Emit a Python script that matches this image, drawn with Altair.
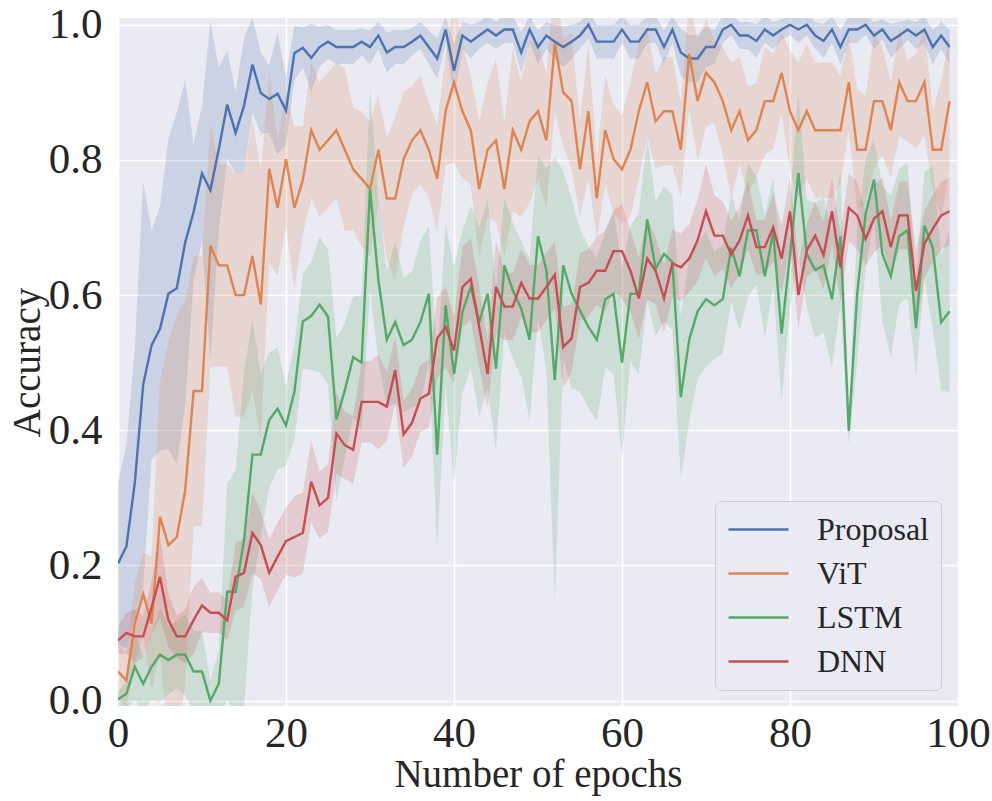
import altair as alt
import pandas as pd

# Training epochs (x axis)
epochs = list(range(100))

# Mean accuracy per epoch for each model
proposal = [
    0.203, 0.228, 0.322, 0.468, 0.526, 0.550, 0.602, 0.610, 0.678, 0.723,
    0.780, 0.755, 0.816, 0.882, 0.840, 0.880, 0.941, 0.899, 0.890, 0.898,
    0.873, 0.958, 0.966, 0.951, 0.967, 0.975, 0.967, 0.967, 0.967, 0.975,
    0.967, 0.984, 0.959, 0.967, 0.967, 0.975, 0.984, 0.967, 0.950, 0.993,
    0.932, 0.984, 0.975, 0.984, 0.993, 0.984, 0.993, 0.993, 0.959, 0.993,
    0.967, 0.984, 0.975, 0.967, 0.975, 0.984, 1.000, 0.975, 0.975, 0.975,
    0.993, 0.975, 0.975, 0.993, 0.993, 0.967, 0.993, 0.959, 0.950, 0.950,
    0.967, 0.967, 0.993, 1.000, 0.984, 0.984, 0.976, 0.993, 0.984, 0.993,
    1.000, 0.993, 1.000, 0.984, 0.976, 0.993, 0.967, 0.993, 0.993, 1.000,
    0.984, 0.993, 0.976, 0.984, 0.993, 0.984, 0.993, 0.967, 0.984, 0.967,
]
vit = [
    0.043, 0.030, 0.114, 0.158, 0.114, 0.272, 0.230, 0.242, 0.311, 0.458,
    0.458, 0.673, 0.644, 0.644, 0.600, 0.600, 0.658, 0.586, 0.787, 0.729,
    0.801, 0.729, 0.770, 0.844, 0.815, 0.829, 0.844, 0.815, 0.786, 0.772,
    0.757, 0.815, 0.743, 0.743, 0.801, 0.829, 0.844, 0.815, 0.772, 0.872,
    0.915, 0.872, 0.844, 0.757, 0.815, 0.829, 0.757, 0.844, 0.815, 0.857,
    0.872, 0.829, 0.972, 0.900, 0.887, 0.786, 0.872, 0.743, 0.844, 0.801,
    0.786, 0.815, 0.872, 0.915, 0.857, 0.872, 0.872, 0.815, 0.957, 0.887,
    0.929, 0.915, 0.887, 0.844, 0.872, 0.829, 0.844, 0.887, 0.887, 0.929,
    0.872, 0.844, 0.872, 0.844, 0.844, 0.844, 0.844, 0.915, 0.815, 0.815,
    0.887, 0.887, 0.844, 0.915, 0.887, 0.887, 0.915, 0.815, 0.815, 0.887,
]
lstm = [
    0.002, 0.010, 0.050, 0.025, 0.050, 0.068, 0.060, 0.068, 0.068, 0.043,
    0.043, 0.000, 0.025, 0.161, 0.161, 0.237, 0.364, 0.364, 0.415, 0.432,
    0.407, 0.457, 0.561, 0.569, 0.586, 0.568, 0.416, 0.459, 0.508, 0.500,
    0.757, 0.622, 0.534, 0.560, 0.526, 0.534, 0.560, 0.602, 0.364, 0.585,
    0.483, 0.575, 0.612, 0.560, 0.602, 0.491, 0.644, 0.607, 0.580, 0.534,
    0.687, 0.637, 0.474, 0.644, 0.602, 0.577, 0.553, 0.534, 0.594, 0.602,
    0.500, 0.602, 0.602, 0.712, 0.639, 0.661, 0.649, 0.449, 0.534, 0.576,
    0.594, 0.585, 0.594, 0.670, 0.628, 0.696, 0.696, 0.628, 0.693, 0.543,
    0.660, 0.781, 0.661, 0.637, 0.644, 0.594, 0.687, 0.399, 0.602, 0.720,
    0.771, 0.661, 0.628, 0.687, 0.696, 0.551, 0.703, 0.670, 0.560, 0.576,
]
dnn = [
    0.089, 0.100, 0.095, 0.095, 0.138, 0.183, 0.119, 0.095, 0.095, 0.119,
    0.141, 0.130, 0.130, 0.119, 0.183, 0.189, 0.248, 0.230, 0.189, 0.213,
    0.236, 0.242, 0.248, 0.324, 0.289, 0.300, 0.395, 0.378, 0.371, 0.442,
    0.442, 0.442, 0.435, 0.489, 0.394, 0.411, 0.447, 0.454, 0.536, 0.553,
    0.518, 0.612, 0.624, 0.553, 0.483, 0.612, 0.583, 0.583, 0.618, 0.595,
    0.595, 0.612, 0.630, 0.523, 0.536, 0.612, 0.618, 0.636, 0.636, 0.665,
    0.665, 0.636, 0.595, 0.654, 0.636, 0.595, 0.647, 0.641, 0.654, 0.681,
    0.724, 0.688, 0.688, 0.660, 0.681, 0.718, 0.671, 0.671, 0.700, 0.654,
    0.724, 0.600, 0.666, 0.688, 0.659, 0.724, 0.641, 0.729, 0.718, 0.683,
    0.713, 0.724, 0.671, 0.718, 0.718, 0.606, 0.676, 0.698, 0.718, 0.724,
]

# Half-width of the 95% confidence band per epoch
proposal_hw = [
    0.12, 0.15, 0.20, 0.30, 0.17, 0.18, 0.23, 0.26, 0.24, 0.10,
    0.10, 0.25, 0.12, 0.08, 0.06, 0.10, 0.07, 0.06, 0.05, 0.09,
    0.05, 0.04, 0.03, 0.05, 0.03, 0.025, 0.025, 0.025, 0.025, 0.02,
    0.025, 0.02, 0.03, 0.025, 0.025, 0.02, 0.02, 0.025, 0.03, 0.02,
    0.04, 0.02, 0.025, 0.02, 0.02, 0.02, 0.02, 0.02, 0.03, 0.02,
    0.025, 0.02, 0.025, 0.03, 0.025, 0.02, 0.02, 0.025, 0.025, 0.025,
    0.02, 0.025, 0.025, 0.02, 0.02, 0.025, 0.02, 0.035, 0.035, 0.035,
    0.03, 0.025, 0.02, 0.015, 0.02, 0.02, 0.025, 0.02, 0.02, 0.015,
    0.015, 0.02, 0.015, 0.02, 0.025, 0.02, 0.025, 0.02, 0.02, 0.015,
    0.02, 0.015, 0.025, 0.02, 0.015, 0.02, 0.02, 0.025, 0.02, 0.025,
]
vit_hw = [
    0.04, 0.04, 0.06, 0.06, 0.10, 0.20, 0.30, 0.33, 0.28, 0.20,
    0.20, 0.18, 0.15, 0.15, 0.18, 0.18, 0.20, 0.20, 0.14, 0.10,
    0.10, 0.12, 0.08, 0.10, 0.10, 0.10, 0.10, 0.12, 0.09, 0.10,
    0.10, 0.08, 0.09, 0.12, 0.10, 0.08, 0.08, 0.07, 0.08, 0.08,
    0.12, 0.10, 0.08, 0.10, 0.10, 0.12, 0.10, 0.12, 0.10, 0.12,
    0.10, 0.10, 0.10, 0.08, 0.10, 0.07, 0.10, 0.06, 0.08, 0.08,
    0.08, 0.10, 0.10, 0.08, 0.07, 0.08, 0.08, 0.07, 0.08, 0.09,
    0.08, 0.06, 0.08, 0.10, 0.08, 0.08, 0.07, 0.08, 0.07, 0.06,
    0.09, 0.10, 0.10, 0.10, 0.10, 0.10, 0.08, 0.07, 0.09, 0.08,
    0.10, 0.08, 0.07, 0.08, 0.06, 0.07, 0.08, 0.06, 0.10, 0.10,
]
lstm_hw = [
    0.01, 0.02, 0.05, 0.04, 0.05, 0.07, 0.05, 0.05, 0.06, 0.06,
    0.06, 0.03, 0.05, 0.16, 0.18, 0.25, 0.20, 0.12, 0.10, 0.09,
    0.06, 0.07, 0.07, 0.08, 0.10, 0.10, 0.12, 0.10, 0.09, 0.10,
    0.15, 0.12, 0.10, 0.12, 0.10, 0.10, 0.12, 0.10, 0.14, 0.12,
    0.16, 0.12, 0.12, 0.14, 0.14, 0.12, 0.10, 0.10, 0.10, 0.12,
    0.12, 0.15, 0.33, 0.14, 0.14, 0.12, 0.12, 0.12, 0.10, 0.12,
    0.14, 0.10, 0.12, 0.12, 0.10, 0.10, 0.10, 0.12, 0.12, 0.10,
    0.10, 0.08, 0.08, 0.08, 0.08, 0.10, 0.08, 0.09, 0.08, 0.10,
    0.08, 0.12, 0.08, 0.10, 0.10, 0.10, 0.10, 0.02, 0.10, 0.08,
    0.06, 0.10, 0.12, 0.10, 0.10, 0.07, 0.08, 0.12, 0.10, 0.12,
]
dnn_hw = [
    0.02, 0.03, 0.04, 0.03, 0.04, 0.06, 0.04, 0.03, 0.04, 0.05,
    0.04, 0.03, 0.03, 0.03, 0.05, 0.05, 0.06, 0.05, 0.05, 0.05,
    0.05, 0.06, 0.06, 0.06, 0.05, 0.05, 0.06, 0.05, 0.05, 0.06,
    0.06, 0.07, 0.05, 0.05, 0.05, 0.05, 0.05, 0.05, 0.06, 0.06,
    0.05, 0.06, 0.06, 0.06, 0.05, 0.07, 0.05, 0.05, 0.05, 0.05,
    0.05, 0.05, 0.05, 0.06, 0.05, 0.05, 0.05, 0.05, 0.06, 0.06,
    0.07, 0.06, 0.06, 0.06, 0.05, 0.05, 0.05, 0.05, 0.05, 0.06,
    0.07, 0.06, 0.05, 0.05, 0.05, 0.05, 0.04, 0.04, 0.05, 0.05,
    0.05, 0.05, 0.04, 0.05, 0.05, 0.05, 0.05, 0.05, 0.05, 0.04,
    0.05, 0.05, 0.04, 0.05, 0.05, 0.06, 0.05, 0.05, 0.05, 0.05,
]

models = ["Proposal", "ViT", "LSTM", "DNN"]
palette = ["#4c72b0", "#dd8452", "#55a868", "#c44e52"]
x_ticks = [0, 20, 40, 60, 80, 100]
y_ticks = [0.0, 0.2, 0.4, 0.6, 0.8, 1.0]

rows = []
for name, means, hws in zip(models, [proposal, vit, lstm, dnn],
                            [proposal_hw, vit_hw, lstm_hw, dnn_hw]):
    for e, m, h in zip(epochs, means, hws):
        rows.append({"epoch": e, "model": name, "acc": m,
                     "lo": m - h, "hi": m + h})
df = pd.DataFrame(rows)

FONT = "Liberation Serif"
x_enc = alt.X(
    "epoch:Q",
    scale=alt.Scale(domain=[0, 100], nice=False, zero=False),
    axis=alt.Axis(values=x_ticks, title="Number of epochs", format="d",
                  labelFlush=False),
)
y_scale = alt.Scale(domain=[-0.008, 1.01], nice=False, zero=False)

# Legend handle: a horizontal line twice as long as the symbol box
legend = alt.Legend(
    title=None,
    orient="none",
    legendX=597,
    legendY=483,
    symbolType="M-1,0H3",
    symbolSize=900,
    symbolStrokeWidth=2.4,
    symbolOpacity=1,
    symbolFillColor="transparent",
    labelFont=FONT,
    labelFontSize=32,
    labelColor="#262626",
    labelOffset=57,
    rowPadding=11,
    padding=12,
    fillColor="rgba(234,234,242,0.8)",
    strokeColor="#cccccc",
    cornerRadius=6,
)
color_enc = alt.Color("model:N", scale=alt.Scale(domain=models, range=palette),
                      legend=legend)

bands = alt.Chart(df).mark_area(opacity=0.2, clip=True).encode(
    x=x_enc,
    y=alt.Y("lo:Q", scale=y_scale,
            axis=alt.Axis(values=y_ticks, format=".1f", title="Accuracy",
                          labelFlush=False)),
    y2="hi:Q",
    color=color_enc,
)

lines = alt.Chart(df).mark_line(strokeWidth=2.4, clip=True).encode(
    x=x_enc,
    y=alt.Y("acc:Q", scale=y_scale),
    color=color_enc,
)

chart = (
    alt.layer(bands, lines)
    .properties(
        width=840,
        height=688,
        autosize=alt.AutoSizeParams(type="none"),
        padding={"left": 118, "top": 18, "right": 34, "bottom": 95},
        background="white",
    )
    .configure_view(fill="#eaeaf2", stroke=None)
    .configure_axis(
        domain=False,
        ticks=False,
        grid=True,
        gridColor="white",
        gridWidth=1.6,
        labelFont=FONT,
        labelFontSize=43,
        labelColor="#262626",
        titleFont=FONT,
        titleFontSize=39,
        titleFontWeight="normal",
        titleColor="#262626",
    )
    .configure_axisX(labelPadding=6, titlePadding=0)
    .configure_axisY(labelPadding=16, titlePadding=1)
)

chart.save("out.html", embed_options={"renderer": "svg", "actions": False})
